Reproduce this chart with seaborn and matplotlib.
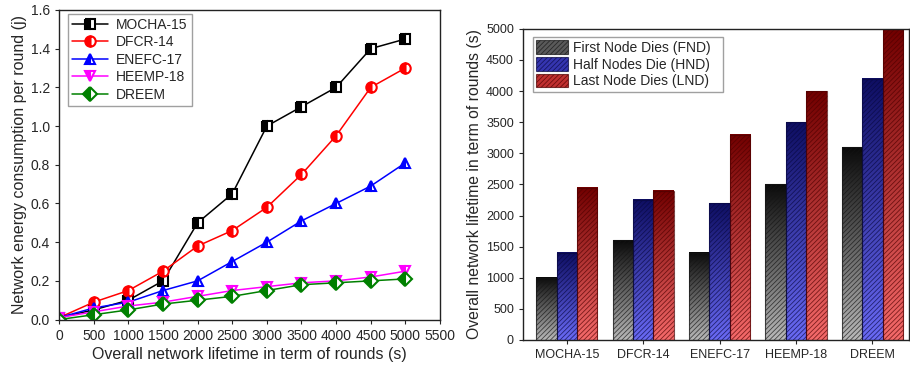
import numpy as np
import pandas as pd
import matplotlib
matplotlib.use("Agg")
import matplotlib.pyplot as plt
import matplotlib.colors as mcolors
import seaborn as sns
from matplotlib.patches import Patch

# ---------------- data ----------------
rounds = [0, 500, 1000, 1500, 2000, 2500, 3000, 3500, 4000, 4500, 5000]
mocha = [0.01, 0.05, 0.10, 0.20, 0.50, 0.65, 1.00, 1.10, 1.20, 1.40, 1.45]
dfcr = [0.01, 0.09, 0.15, 0.25, 0.38, 0.46, 0.58, 0.75, 0.95, 1.20, 1.30]
enefc = [0.01, 0.06, 0.09, 0.15, 0.20, 0.30, 0.40, 0.51, 0.60, 0.69, 0.81]
heemp = [0.01, 0.04, 0.07, 0.09, 0.12, 0.15, 0.17, 0.19, 0.20, 0.22, 0.25]
dreem = [0.00, 0.025, 0.05, 0.08, 0.10, 0.12, 0.15, 0.18, 0.19, 0.20, 0.21]
series_names = ["MOCHA-15", "DFCR-14", "ENEFC-17", "HEEMP-18", "DREEM"]

protocols = ["MOCHA-15", "DFCR-14", "ENEFC-17", "HEEMP-18", "DREEM"]
fnd = [1000, 1600, 1400, 2500, 3100]
hnd = [1400, 2250, 2200, 3500, 4200]
lnd = [2450, 2400, 3300, 4000, 5000]
metrics = ["First Node Dies (FND)", "Half Nodes Die (HND)", "Last Node Dies (LND)"]

# ---------------- style ----------------
sns.set_style("ticks")
plt.rcParams["font.family"] = ["Liberation Sans", "DejaVu Sans"]
plt.rcParams["hatch.linewidth"] = 0.6
plt.rcParams["xtick.direction"] = "out"
plt.rcParams["ytick.direction"] = "out"

fig = plt.figure(figsize=(9.1, 3.69), dpi=100)
ax1 = fig.add_axes([0.065, 0.134, 0.4185, 0.839])
ax2 = fig.add_axes([0.5747, 0.0786, 0.4243, 0.8434])

# ---------------- left: line chart ----------------
line_vals = [mocha, dfcr, enefc, heemp, dreem]
line_colors = ["#000000", "#ff0000", "#0000ff", "#ff00ff", "#008000"]
line_markers = ["s", "o", "^", "v", "D"]
for name, vals, col, mk in zip(series_names, line_vals, line_colors, line_markers):
    df = pd.DataFrame({"x": rounds, "y": vals})
    sns.lineplot(data=df, x="x", y="y", ax=ax1, color=col, marker=mk,
                 markersize=7.5 if mk != "D" else 7, markeredgecolor=col,
                 markeredgewidth=1.5, fillstyle="left",
                 markerfacecoloralt="white", linewidth=1.1, label=name)

ax1.set_xlim(0, 5500)
ax1.set_ylim(0, 1.6)
ax1.set_xticks(np.arange(0, 5501, 500))
ax1.set_yticks(np.arange(0, 1.61, 0.2))
ax1.yaxis.set_major_formatter(matplotlib.ticker.FormatStrFormatter("%.1f"))
ax1.tick_params(labelsize=10, length=3, width=0.8)
ax1.set_xlabel("Overall network lifetime in term of rounds (s)", fontsize=11.5, labelpad=3)
ax1.set_ylabel("Network energy consumption per round (j)", fontsize=11.5, labelpad=3)
for s in ax1.spines.values():
    s.set_linewidth(1.0)
    s.set_color("#222222")
leg1 = ax1.legend(loc="upper left", bbox_to_anchor=(0.022, 0.988), fontsize=10,
                  handlelength=2.6, frameon=True, fancybox=False,
                  borderpad=0.3, labelspacing=0.25, handletextpad=0.6,
                  borderaxespad=0)
leg1.get_frame().set_edgecolor("#888888")
leg1.get_frame().set_linewidth(1.0)

# ---------------- right: bar chart ----------------
bar_df = pd.DataFrame({
    "protocol": protocols * 3,
    "value": fnd + hnd + lnd,
    "metric": [metrics[0]] * 5 + [metrics[1]] * 5 + [metrics[2]] * 5,
})
sns.barplot(data=bar_df, x="protocol", y="value", hue="metric", ax=ax2,
            width=0.8, legend=False, order=protocols, hue_order=metrics)

top_cols = ["#0a0a0a", "#0e0e62", "#720000"]
bot_cols = ["#b8b8b8", "#6a6af5", "#f56a6a"]
edge_cols = [(0.08, 0.08, 0.08, 0.7), (0.03, 0.03, 0.25, 0.7), (0.3, 0.0, 0.0, 0.7)]
mid_cols = ["#5a5a5a", "#3535b0", "#c03030"]

bars = [p for p in ax2.patches]
for i, p in enumerate(bars):
    k = i // len(protocols)
    x0, w, h = p.get_x(), p.get_width(), p.get_height()
    if h <= 0:
        continue
    c0 = np.array(mcolors.to_rgb(top_cols[k]))
    c1 = np.array(mcolors.to_rgb(bot_cols[k]))
    t = np.linspace(0, 1, 200)[:, None]
    grad = (c0[None, :] * (1 - t) + c1[None, :] * t)[:, None, :]
    ax2.imshow(grad, extent=[x0, x0 + w, 0, h], origin="upper",
               aspect="auto", zorder=0.5, interpolation="bilinear")
    p.set_facecolor("none")
    p.set_edgecolor(edge_cols[k])
    p.set_hatch("///////")
    p.set_linewidth(0.8)
    p.set_zorder(1)

ax2.set_xlim(-0.575, 4.48)
ax2.set_ylim(0, 5000)
ax2.set_yticks(np.arange(0, 5001, 500))
ax2.tick_params(axis="y", labelsize=9, length=3, width=0.8)
ax2.tick_params(axis="x", labelsize=9, length=3, width=0.8)
ax2.set_xlabel("")
ax2.set_ylabel("Overall network lifetime in term of rounds (s)", fontsize=11.3, labelpad=3)
for s in ax2.spines.values():
    s.set_linewidth(1.0)
    s.set_color("#222222")

handles = [Patch(facecolor=mid_cols[k], edgecolor=edge_cols[k], hatch="///////",
                 linewidth=0.8) for k in range(3)]
leg2 = ax2.legend(handles, metrics, loc="upper left",
                  bbox_to_anchor=(0.026, 0.974, 0.492, 0.0), mode="expand",
                  fontsize=10, frameon=True, fancybox=False, handlelength=2.3,
                  handleheight=1.15, borderpad=0.25, labelspacing=0.15,
                  handletextpad=0.3, borderaxespad=0)
leg2.get_frame().set_edgecolor("#888888")
leg2.get_frame().set_linewidth(1.0)

fig.savefig("out.png", dpi=100)
